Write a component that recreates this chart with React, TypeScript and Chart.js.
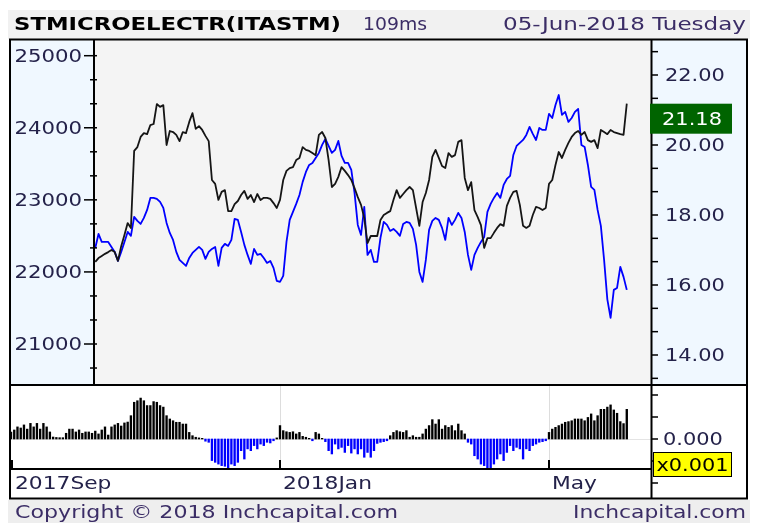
import React, { useEffect, useRef } from 'react';
import { Chart, registerables } from 'chart.js';

Chart.register(...registerables);

// ---------- texts ----------
const titleText = 'STMICROELECTR(ITASTM)';
const latencyText = '109ms';
const dateText = '05-Jun-2018 Tuesday';
const copyrightText = 'Copyright © 2018 Inchcapital.com';
const siteText = 'Inchcapital.com';
const scaleNote = 'x0.001';

// ---------- axes ----------
const monthLabels = ['2017Sep', '2018Jan', 'May'];
const monthIndex = [0, 83, 166];
const leftTickValues = [21000, 22000, 23000, 24000, 25000];
const rightTickValues = [14, 16, 18, 20, 22];
const oscTickValues = [-2, -1, 0, 1, 2];

// ---------- data (daily, index 0 = first trading day shown) ----------
const lineStartIndex = 26;

// STMicroelectronics close (right axis)
const stockClose = [
  16.66, 16.77, 16.83, 16.89, 16.94, 17.0, 16.94, 16.69, 17.11, 17.43,
  17.77, 17.63, 19.83, 19.94, 20.23, 20.34, 20.31, 20.57, 20.6, 21.17,
  21.09, 21.14, 20.0, 20.4, 20.37, 20.29, 20.11, 20.37, 20.34, 20.66,
  20.91, 20.46, 20.54, 20.43, 20.26, 20.11, 19.0, 18.89, 18.43, 18.66,
  18.71, 18.11, 18.11, 18.31, 18.4, 18.57, 18.69, 18.46, 18.57, 18.37,
  18.6, 18.43, 18.49, 18.49, 18.46, 18.34, 18.2, 18.43, 19.0, 19.26,
  19.34, 19.37, 19.57, 19.63, 19.94, 19.86, 19.83, 19.77, 19.71, 20.29,
  20.37, 20.2, 19.57, 18.8, 18.89, 19.09, 19.37, 19.26, 19.14, 19.0,
  18.77, 18.51, 18.29, 17.91, 17.2, 17.4, 17.4, 17.4, 17.86, 18.0,
  18.06, 18.11, 18.43, 18.71, 18.49, 18.6, 18.71, 18.8, 18.71, 18.2,
  17.69, 18.37, 18.63, 19.0, 19.66, 19.86, 19.63, 19.4, 19.34, 19.77,
  19.66, 19.71, 20.09, 20.14, 19.06, 18.71, 18.94, 18.14, 17.94, 17.71,
  17.06, 17.34, 17.34, 17.49, 17.63, 17.74, 17.69, 18.26, 18.49, 18.66,
  18.69, 18.29, 17.69, 17.63, 17.69, 18.0, 18.23, 18.2, 18.14, 18.2,
  18.89, 19.0, 19.43, 19.8, 19.63, 19.86, 20.06, 20.23, 20.34, 20.4,
  20.29, 20.37, 20.14, 20.09, 20.14, 19.91, 20.43, 20.37, 20.31, 20.43,
  20.37, 20.34, 20.31, 20.29, 21.18,
];

// FTSE MIB index (left axis)
const indexClose = [
  22333, 22527, 22416, 22416, 22416, 22347, 22278, 22153, 22278, 22416,
  22555, 22500, 22763, 22708, 22666, 22749, 22860, 23027, 23027, 23013,
  22971, 22888, 22680, 22541, 22444, 22278, 22167, 22125, 22083, 22194,
  22264, 22306, 22347, 22306, 22181, 22278, 22319, 22347, 22083, 22333,
  22389, 22361, 22444, 22735, 22722, 22555, 22375, 22236, 22111, 22319,
  22236, 22250, 22194, 22125, 22153, 22056, 21876, 21862, 21945, 22416,
  22722, 22833, 22944, 23068, 23249, 23387, 23484, 23512, 23582, 23651,
  23762, 23845, 23748, 23651, 23693, 23817, 23609, 23512, 23512, 23415,
  23096, 22652, 22514, 22902, 22236, 22306, 22139, 22139, 22472, 22694,
  22652, 22569, 22597, 22555, 22500, 22666, 22694, 22680, 22597, 22375,
  22000, 21862, 22167, 22583, 22708, 22749, 22722, 22611, 22444, 22749,
  22652, 22722, 22819, 22749, 22555, 22236, 22028, 22236, 22333, 22416,
  22486, 22833, 22944, 23027, 23096, 23027, 23207, 23290, 23332, 23623,
  23748, 23790, 23831, 23901, 24012, 23915, 23831, 23998, 23970, 23970,
  24192, 24136, 24317, 24455, 24178, 24220, 24081, 24136, 24220, 24261,
  23762, 23734, 23484, 23179, 23138, 22860, 22638, 22167, 21620, 21362,
  21751, 21778, 22070, 21931, 21751,
];

// relative strength oscillator (x0.001)
const oscillator = [
  0.32, 0.41, 0.55, 0.5, 0.64, 0.45, 0.71, 0.55, 0.71, 0.45,
  0.71, 0.55, 0.32, 0.09, 0.07, 0.06, 0.06, 0.26, 0.45, 0.45,
  0.32, 0.41, 0.26, 0.32, 0.32, 0.26, 0.36, 0.23, 0.41, 0.55,
  0.18, 0.55, 0.64, 0.71, 0.59, 0.73, 0.77, 1.06, 1.67, 1.74,
  1.86, 1.74, 1.52, 1.52, 1.7, 1.67, 1.52, 1.45, 1.06, 0.91,
  0.83, 0.76, 0.76, 0.68, 0.68, 0.3, 0.15, 0.08, 0.05, 0.03,
  -0.1, -0.15, -0.98, -1.06, -1.14, -1.21, -1.24, -1.33, -1.14, -1.21,
  -1.06, -0.53, -0.91, -0.45, -0.53, -0.3, -0.45, -0.23, -0.3, -0.15,
  -0.18, -0.08, 0.05, 0.61, 0.38, 0.33, 0.3, 0.33, 0.23, 0.3,
  0.12, 0.08, 0.03, -0.08, 0.3, 0.23, 0.03, -0.12, -0.53, -0.68,
  -0.23, -0.45, -0.38, -0.61, -0.3, -0.64, -0.45, -0.68, -0.45, -0.83,
  -0.61, -0.83, -0.53, -0.2, -0.15, -0.12, -0.08, 0.15, 0.3, 0.38,
  0.33, 0.3, 0.38, 0.08, 0.15, 0.08, 0.08, 0.23, 0.45, 0.61,
  0.88, 0.68, 0.88, 0.45, 0.61, 0.53, 0.61, 0.38, 0.68, 0.38,
  0.23, -0.15, -0.23, -0.76, -0.91, -1.14, -1.21, -1.33, -1.33, -1.14,
  -0.91, -0.68, -0.98, -0.61, -0.3, -0.53, -0.38, -0.45, -0.91, -0.45,
  -0.53, -0.3, -0.23, -0.15, -0.12, -0.08, 0.3, 0.45, 0.53, 0.61,
  0.68, 0.76, 0.79, 0.83, 0.91, 0.91, 0.91, 0.83, 0.98, 1.14,
  0.83, 1.06, 1.35, 1.35, 1.45, 1.55, 1.32, 1.17, 0.79, 0.7,
  1.35,
];

// ---------- layout (pixels) ----------
const W = 758;
const H = 523;
const AREA = { left: 11, top: 40, right: 651, bottom: 468 };
const MAIN_BOTTOM = 385;
const LEFT_AXIS_X = 94;
const RIGHT_AXIS_X = 651.5;
const FRAME = { left: 10, top: 39.5, right: 747, bottom: 498.5 };
const OSC_BOTTOM = 469;

// scale anchors (value -> pixel)
function rangeFor(v1: number, p1: number, v2: number, p2: number) {
  const k = (v1 - v2) / (p2 - p1);
  return { max: v1 + (p1 - AREA.top) * k, min: v2 - (AREA.bottom - p2) * k };
}
const leftRange = rangeFor(25000, 55.7, 21000, 344);
const rightRange = rangeFor(22, 75, 14, 355);
const oscRange = rangeFor(2, 395, -2, 483);
const xPxPerDay = (549 - 11) / 166;
const xRange = { min: (AREA.left - 11) / -xPxPerDay, max: (AREA.right - 11) / xPxPerDay };

const FONT = '"DejaVu Sans", Verdana, sans-serif';
const LABEL_COLOR = '#24224a';
const FOOT_COLOR = '#3b2d66';

function stretchText(
  ctx: CanvasRenderingContext2D,
  text: string,
  x: number,
  baseline: number,
  font: string,
  color: string,
  align: 'left' | 'right' | 'center',
  sx: number,
  targetWidth?: number
) {
  ctx.save();
  ctx.font = font;
  ctx.fillStyle = color;
  ctx.textBaseline = 'alphabetic';
  ctx.textAlign = 'left';
  const w = ctx.measureText(text).width;
  const s = targetWidth ? targetWidth / w : sx;
  const total = w * s;
  let left = x;
  if (align === 'right') left = x - total;
  else if (align === 'center') left = x - total / 2;
  ctx.translate(left, baseline);
  ctx.scale(s, 1);
  ctx.fillText(text, 0, 0);
  ctx.restore();
}

function seg(ctx: CanvasRenderingContext2D, x1: number, y1: number, x2: number, y2: number) {
  ctx.beginPath();
  ctx.moveTo(x1, y1);
  ctx.lineTo(x2, y2);
  ctx.stroke();
}

const framePlugin = {
  id: 'inchFrame',
  beforeDraw(chart: any) {
    const ctx: CanvasRenderingContext2D = chart.ctx;
    const xs = chart.scales.x;
    const yO = chart.scales.yO;
    ctx.save();
    ctx.fillStyle = '#ffffff';
    ctx.fillRect(0, 0, W, H);
    ctx.fillStyle = '#f1f1f1';
    ctx.fillRect(8, 10, 742, 29);
    ctx.fillStyle = '#eeeeee';
    ctx.fillRect(8, 500, 742, 23);
    ctx.fillStyle = '#f0f8ff';
    ctx.fillRect(FRAME.left, FRAME.top, LEFT_AXIS_X - FRAME.left, MAIN_BOTTOM - FRAME.top);
    ctx.fillRect(RIGHT_AXIS_X, FRAME.top, FRAME.right - RIGHT_AXIS_X, MAIN_BOTTOM - FRAME.top);
    ctx.fillStyle = '#f4f4f4';
    ctx.fillRect(LEFT_AXIS_X, FRAME.top, RIGHT_AXIS_X - LEFT_AXIS_X, MAIN_BOTTOM - FRAME.top);
    // oscillator grid
    ctx.strokeStyle = '#dddddd';
    ctx.lineWidth = 1;
    monthIndex.forEach((i) => {
      if (i === 0) return;
      const x = Math.round(xs.getPixelForValue(i)) + 0.5;
      seg(ctx, x, MAIN_BOTTOM + 1, x, 460);
    });
    const y0 = Math.round(yO.getPixelForValue(0)) + 0.5;
    ctx.strokeStyle = '#e4e4e4';
    seg(ctx, AREA.left, y0, RIGHT_AXIS_X, y0);
    ctx.restore();
  },
  afterDatasetsDraw(chart: any) {
    const ctx: CanvasRenderingContext2D = chart.ctx;
    const xs = chart.scales.x;
    const yL = chart.scales.yL;
    const yR = chart.scales.yR;
    const yO = chart.scales.yO;
    ctx.save();
    ctx.strokeStyle = '#000000';
    ctx.lineCap = 'butt';

    // frame
    ctx.lineWidth = 2;
    ctx.strokeRect(FRAME.left, FRAME.top, FRAME.right - FRAME.left, FRAME.bottom - FRAME.top);
    seg(ctx, FRAME.left, MAIN_BOTTOM, FRAME.right, MAIN_BOTTOM);
    seg(ctx, FRAME.left, OSC_BOTTOM, RIGHT_AXIS_X, OSC_BOTTOM);
    seg(ctx, LEFT_AXIS_X, FRAME.top, LEFT_AXIS_X, MAIN_BOTTOM);
    seg(ctx, RIGHT_AXIS_X, FRAME.top, RIGHT_AXIS_X, FRAME.bottom);

    const labelFont = `17px ${FONT}`;
    const digitHalf = 6.2;

    // left axis ticks
    ctx.lineWidth = 1.5;
    const lStep = 1000 / 3;
    for (let k = -1; k < 20; k++) {
      const v = 25000 - k * lStep;
      const y = yL.getPixelForValue(v);
      if (y < FRAME.top + 2 || y > MAIN_BOTTOM - 2) continue;
      const major = k % 3 === 0;
      seg(ctx, major ? 84 : 90, y, 97, y);
    }
    leftTickValues.forEach((v) => {
      const y = yL.getPixelForValue(v);
      stretchText(ctx, String(v), 82, y + digitHalf, labelFont, LABEL_COLOR, 'right', 1.25);
    });

    // right axis ticks
    const rStep = 2 / 3;
    for (let k = -3; k < 20; k++) {
      const v = 22 - k * rStep;
      const y = yR.getPixelForValue(v);
      if (y < FRAME.top + 2 || y > MAIN_BOTTOM - 2) continue;
      seg(ctx, RIGHT_AXIS_X, y, 658, y);
    }
    rightTickValues.forEach((v) => {
      const y = yR.getPixelForValue(v);
      stretchText(ctx, v.toFixed(2), 665, y + digitHalf, labelFont, LABEL_COLOR, 'left', 1.23);
    });

    // oscillator ticks
    oscTickValues.forEach((v) => {
      const y = yO.getPixelForValue(v);
      seg(ctx, RIGHT_AXIS_X, y, 658, y);
    });
    stretchText(ctx, (0).toFixed(3), 663, yO.getPixelForValue(0) + digitHalf, labelFont, LABEL_COLOR, 'left', 1.23);

    // x ticks and month labels
    ctx.lineWidth = 2;
    monthIndex.forEach((i, n) => {
      const x = Math.max(xs.getPixelForValue(i), AREA.left + 1);
      seg(ctx, x, 460, x, OSC_BOTTOM);
      stretchText(ctx, monthLabels[n], x + 3, 489, labelFont, LABEL_COLOR, 'left', 1.28);
    });

    // last price box
    const last = stockClose[stockClose.length - 1];
    const py = yR.getPixelForValue(last);
    ctx.fillStyle = '#006400';
    ctx.fillRect(650, py, 82, 30);
    stretchText(ctx, last.toFixed(2), 692, py + 15 + digitHalf, labelFont, '#ffffff', 'center', 1.23);

    // scale note box
    ctx.fillStyle = '#ffff00';
    ctx.fillRect(653, 452, 79, 25);
    ctx.lineWidth = 1;
    ctx.strokeStyle = '#000000';
    ctx.strokeRect(653.5, 452.5, 78, 24);
    stretchText(ctx, scaleNote, 692.5, 464.5 + digitHalf, labelFont, '#000000', 'center', 1, 72);

    // header
    stretchText(ctx, titleText, 14, 30, `bold 17px ${FONT}`, '#000000', 'left', 1, 327);
    stretchText(ctx, latencyText, 363, 30, `17px ${FONT}`, FOOT_COLOR, 'left', 1, 64);
    stretchText(ctx, dateText, 746, 30, `17px ${FONT}`, FOOT_COLOR, 'right', 1, 243);

    // footer
    stretchText(ctx, copyrightText, 15, 518, `17px ${FONT}`, FOOT_COLOR, 'left', 1, 383);
    stretchText(ctx, siteText, 746, 518, `17px ${FONT}`, FOOT_COLOR, 'right', 1, 173);
    ctx.restore();
  },
};

export default function App() {
  const canvasRef = useRef<HTMLCanvasElement | null>(null);

  useEffect(() => {
    const canvas = canvasRef.current;
    if (!canvas) return;
    const chart = new Chart(canvas, {
      type: 'line',
      data: {
        datasets: [
          {
            type: 'line',
            label: 'STMICROELECTR',
            data: stockClose.map((v, i) => ({ x: lineStartIndex + i, y: v })),
            yAxisID: 'yR',
            borderColor: '#151515',
            borderWidth: 1.8,
            pointRadius: 0,
            tension: 0,
            borderJoinStyle: 'round',
            order: 1,
          },
          {
            type: 'line',
            label: 'FTSE MIB',
            data: indexClose.map((v, i) => ({ x: lineStartIndex + i, y: v })),
            yAxisID: 'yL',
            borderColor: '#0000ff',
            borderWidth: 1.8,
            pointRadius: 0,
            tension: 0,
            borderJoinStyle: 'round',
            order: 2,
          },
          {
            type: 'bar',
            label: 'Oscillator',
            data: oscillator.map((v, i) => ({ x: i, y: v })),
            yAxisID: 'yO',
            backgroundColor: oscillator.map((v) => (v >= 0 ? '#000000' : '#0000ff')),
            barThickness: 1.7,
            order: 3,
          },
        ] as any,
      },
      options: {
        animation: false,
        responsive: false,
        maintainAspectRatio: false,
        events: [],
        layout: {
          padding: { left: AREA.left, right: W - AREA.right, top: AREA.top, bottom: H - AREA.bottom },
        },
        plugins: { legend: { display: false }, tooltip: { enabled: false }, title: { display: false } },
        scales: {
          x: { type: 'linear', min: xRange.min, max: xRange.max, offset: false, display: false },
          yL: { type: 'linear', position: 'left', min: leftRange.min, max: leftRange.max, display: false },
          yR: { type: 'linear', position: 'right', min: rightRange.min, max: rightRange.max, display: false },
          yO: { type: 'linear', position: 'right', min: oscRange.min, max: oscRange.max, display: false },
        },
      } as any,
      plugins: [framePlugin],
    });
    return () => chart.destroy();
  }, []);

  return (
    <div style={{ position: 'fixed', left: 0, top: 0, width: W, height: H, background: '#fff' }}>
      <canvas ref={canvasRef} width={W} height={H} style={{ width: W, height: H, display: 'block' }} />
    </div>
  );
}
